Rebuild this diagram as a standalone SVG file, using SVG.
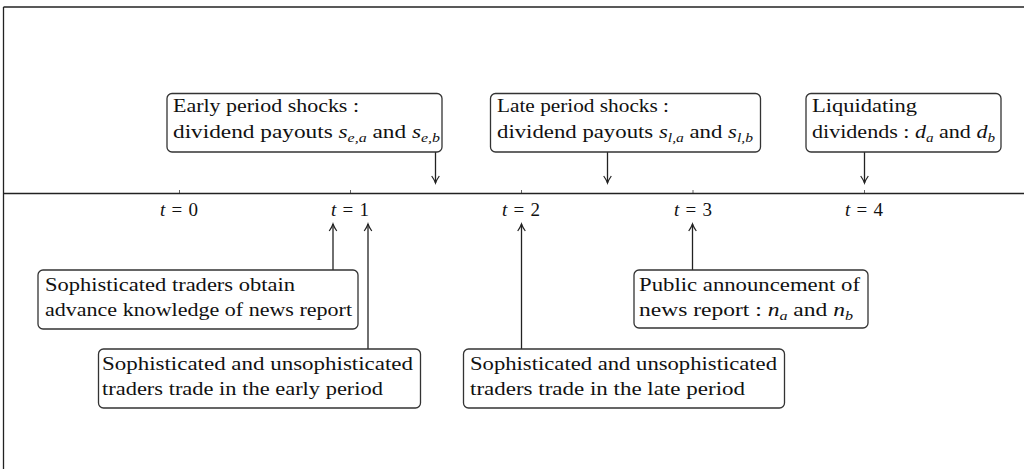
<svg xmlns="http://www.w3.org/2000/svg" width="1024" height="469" viewBox="0 0 1024 469">
<style>
.box{fill:#fff;stroke:#333;stroke-width:1.3}
.ln{stroke:#222;stroke-width:1.3;fill:none}
.tx{font-family:"Liberation Serif","Times New Roman",serif;font-size:19px;fill:#111}
.it{font-style:italic}
.sub{font-size:13px;font-style:italic}
</style>
<defs>
<marker id="ah" markerUnits="userSpaceOnUse" markerWidth="12" markerHeight="12" viewBox="-9 -6 12 12" refX="0" refY="0" orient="auto" overflow="visible">
<path d="M -7 -3.8 Q -3 -1 0 0 Q -3 1 -7 3.8" fill="none" stroke="#222" stroke-width="1.2"/>
</marker>
</defs>
<rect width="1024" height="469" fill="#fff"/>
<g id="frame">
<line class="ln" x1="3.5" y1="7" x2="1024" y2="7" style="stroke-width:1.6"/>
<line class="ln" x1="3.5" y1="7" x2="3.5" y2="469" style="stroke-width:1.3"/>
</g>
<g id="axis">
<line class="ln" x1="3.5" y1="193.5" x2="1024" y2="193.5" style="stroke-width:1.5"/>
<line class="ln" x1="179.5" y1="190" x2="179.5" y2="193" style="stroke-width:0.7"/>
<line class="ln" x1="350.5" y1="190" x2="350.5" y2="193" style="stroke-width:0.7"/>
<line class="ln" x1="521.5" y1="190" x2="521.5" y2="193" style="stroke-width:0.7"/>
<line class="ln" x1="693" y1="190" x2="693" y2="193" style="stroke-width:0.7"/>
<line class="ln" x1="864.5" y1="190" x2="864.5" y2="193" style="stroke-width:0.7"/>
<text class="tx" x="160" y="216" textLength="38" lengthAdjust="spacing"><tspan class="it">t</tspan>=0</text>
<text class="tx" x="331" y="216" textLength="38" lengthAdjust="spacing"><tspan class="it">t</tspan>=1</text>
<text class="tx" x="502" y="216" textLength="38" lengthAdjust="spacing"><tspan class="it">t</tspan>=2</text>
<text class="tx" x="674" y="216" textLength="38" lengthAdjust="spacing"><tspan class="it">t</tspan>=3</text>
<text class="tx" x="845" y="216" textLength="38" lengthAdjust="spacing"><tspan class="it">t</tspan>=4</text>
</g>
<g id="connectors">
<line class="ln" x1="435.5" y1="152" x2="435.5" y2="183" marker-end="url(#ah)"/>
<line class="ln" x1="607.5" y1="152" x2="607.5" y2="183" marker-end="url(#ah)"/>
<line class="ln" x1="864.5" y1="152" x2="864.5" y2="183" marker-end="url(#ah)"/>
<line class="ln" x1="333" y1="270" x2="333" y2="224" marker-end="url(#ah)"/>
<line class="ln" x1="368" y1="349" x2="368" y2="224" marker-end="url(#ah)"/>
<line class="ln" x1="521.5" y1="349" x2="521.5" y2="224" marker-end="url(#ah)"/>
<line class="ln" x1="692.5" y1="270" x2="692.5" y2="224" marker-end="url(#ah)"/>
</g>
<g id="early-shocks">
<rect class="box" x="167" y="93.5" width="275" height="58.5" rx="5"/>
<text class="tx" x="173" y="112" textLength="186" lengthAdjust="spacingAndGlyphs">Early period shocks :</text>
<text class="tx" x="173" y="138" textLength="267" lengthAdjust="spacingAndGlyphs">dividend payouts <tspan class="it">s</tspan><tspan class="sub" dy="4">e,a</tspan><tspan dy="-4"> and </tspan><tspan class="it">s</tspan><tspan class="sub" dy="4">e,b</tspan></text>
</g>
<g id="late-shocks">
<rect class="box" x="490.5" y="93.5" width="270" height="58.5" rx="5"/>
<text class="tx" x="497" y="112" textLength="172" lengthAdjust="spacingAndGlyphs">Late period shocks :</text>
<text class="tx" x="497" y="138" textLength="256" lengthAdjust="spacingAndGlyphs">dividend payouts <tspan class="it">s</tspan><tspan class="sub" dy="4">l,a</tspan><tspan dy="-4"> and </tspan><tspan class="it">s</tspan><tspan class="sub" dy="4">l,b</tspan></text>
</g>
<g id="liquidating">
<rect class="box" x="806" y="93.5" width="195" height="58.5" rx="5"/>
<text class="tx" x="812" y="112" textLength="105" lengthAdjust="spacingAndGlyphs">Liquidating</text>
<text class="tx" x="812" y="138" textLength="183" lengthAdjust="spacingAndGlyphs">dividends : <tspan class="it">d</tspan><tspan class="sub" dy="4">a</tspan><tspan dy="-4"> and </tspan><tspan class="it">d</tspan><tspan class="sub" dy="4">b</tspan></text>
</g>
<g id="advance-knowledge">
<rect class="box" x="38" y="270" width="320" height="59" rx="5"/>
<text class="tx" x="45" y="291" textLength="250" lengthAdjust="spacingAndGlyphs">Sophisticated traders obtain</text>
<text class="tx" x="45" y="316" textLength="307" lengthAdjust="spacingAndGlyphs">advance knowledge of news report</text>
</g>
<g id="trade-early">
<rect class="box" x="98.5" y="349" width="322" height="59" rx="5"/>
<text class="tx" x="102" y="370" textLength="311" lengthAdjust="spacingAndGlyphs">Sophisticated and unsophisticated</text>
<text class="tx" x="102" y="395" textLength="281" lengthAdjust="spacingAndGlyphs">traders trade in the early period</text>
</g>
<g id="trade-late">
<rect class="box" x="463.5" y="349" width="321" height="59" rx="5"/>
<text class="tx" x="470" y="370" textLength="307" lengthAdjust="spacingAndGlyphs">Sophisticated and unsophisticated</text>
<text class="tx" x="470" y="395" textLength="275" lengthAdjust="spacingAndGlyphs">traders trade in the late period</text>
</g>
<g id="public-announcement">
<rect class="box" x="634" y="270" width="234" height="58" rx="5"/>
<text class="tx" x="639" y="291" textLength="221" lengthAdjust="spacingAndGlyphs">Public announcement of</text>
<text class="tx" x="639" y="316" textLength="214" lengthAdjust="spacingAndGlyphs">news report : <tspan class="it">n</tspan><tspan class="sub" dy="4">a</tspan><tspan dy="-4"> and </tspan><tspan class="it">n</tspan><tspan class="sub" dy="4">b</tspan></text>
</g>
</svg>
